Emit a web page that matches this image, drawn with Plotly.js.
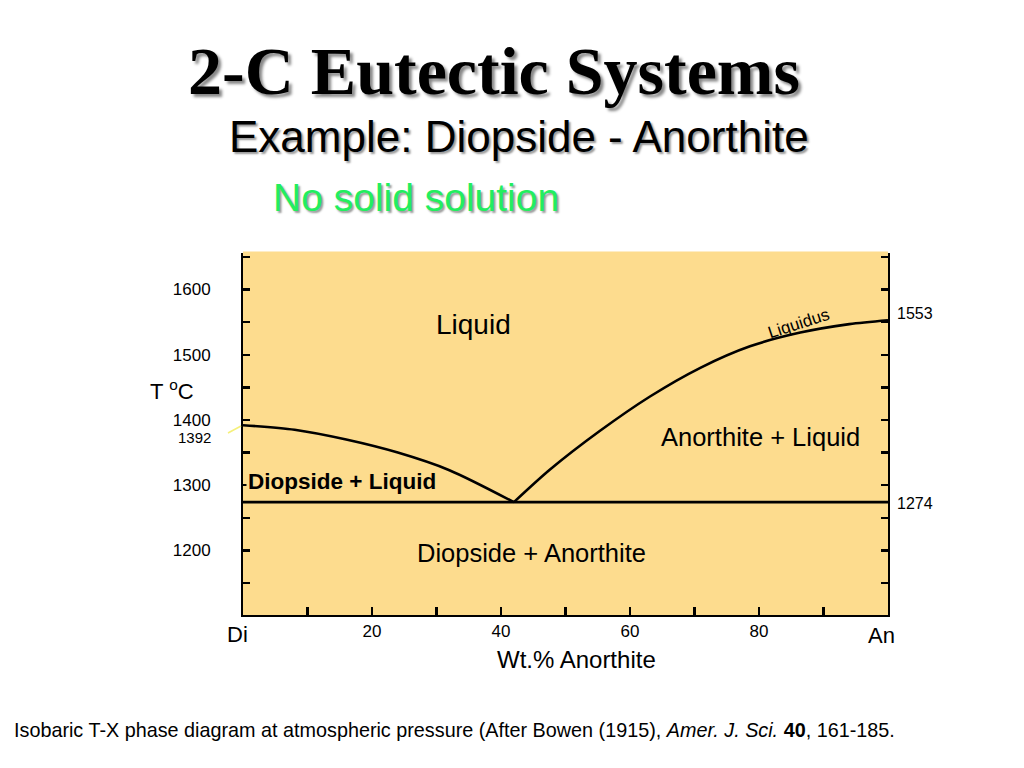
<!DOCTYPE html>
<html>
<head>
<meta charset="utf-8">
<script src="https://cdn.plot.ly/plotly-3.0.1.min.js"></script>
<style>html,body{margin:0;padding:0;background:#fff;}#chart{width:1024px;height:768px;}</style>
</head>
<body>
<div id="chart"></div>
<script>
// Data
const liquidusDiX = [0, 8, 16, 24, 32, 42];
const liquidusDiT = [1392, 1385, 1370, 1350, 1323, 1274];
const liquidusAnX = [42, 47.6, 55.3, 63.1, 70.9, 78.6, 86.4, 94, 100];
const liquidusAnT = [1274, 1324, 1383, 1436, 1480, 1513, 1534, 1547, 1553];
const solidusX = [0, 100];
const solidusT = [1274, 1274];
const xTickVals = [20, 40, 60, 80];
const xTickText = ['20', '40', '60', '80'];
const yTickVals = [1200, 1300, 1400, 1500, 1600];
const yTickText = ['1200', '1300', '1400', '1500', '1600'];
const endLabels = {left: 'Di', right: 'An'};
const specialTemps = {diMelt: 1392, eutectic: 1274, anMelt: 1553};

// Pixel -> paper helpers for layout placement
const L = 243, R = 888, T = 253, B = 615;
const px = x => (x - L) / (R - L);
const py = y => (B - y) / (B - T);

const lineStyle = {color: '#000', width: 2.6};
const traces = [
  {x: liquidusDiX, y: liquidusDiT, mode: 'lines', line: Object.assign({shape: 'spline', smoothing: 0.8}, lineStyle), hoverinfo: 'skip'},
  {x: liquidusAnX, y: liquidusAnT, mode: 'lines', line: Object.assign({shape: 'spline', smoothing: 0.8}, lineStyle), hoverinfo: 'skip'},
  {x: solidusX, y: solidusT, mode: 'lines', line: lineStyle, hoverinfo: 'skip'}
];

const sans = 'Liberation Sans, Arial, sans-serif';
const bg = '#FDDC8E';
const C = {xanchor: 'center', yanchor: 'middle', showarrow: false};
const ann = o => Object.assign({}, C, o);

const annotations = [
  ann({text: 'Example: Diopside - Anorthite', xref: 'paper', yref: 'paper', x: px(519), y: py(137),
   font: {family: sans, size: 44, color: '#000', shadow: '2px 2px 2px #999'}}),
  ann({text: 'No solid solution', xref: 'paper', yref: 'paper', x: px(416), y: py(197),
   font: {family: sans, size: 39, color: '#22EE5E', shadow: '2px 2px 2px #999'}}),
  ann({text: 'Liquid', x: 35.7, y: 1547, font: {family: sans, size: 28, color: '#000'}}),
  ann({text: 'Liquidus', x: 86.2, y: 1548, textangle: -18, font: {family: sans, size: 17, color: '#000'}}),
  ann({text: 'Anorthite + Liquid', x: 80.2, y: 1374, font: {family: sans, size: 25.5, color: '#000'}}),
  ann({text: '<b>Diopside + Liquid</b>', x: 0.5, xanchor: 'left', y: 1306, bgcolor: bg,
   font: {family: sans, size: 22.5, color: '#000'}}),
  ann({text: 'Diopside + Anorthite', x: 44.7, y: 1196, font: {family: sans, size: 25.5, color: '#000'}}),
  ann({text: 'T <sup>o</sup>C', xref: 'paper', yref: 'paper', x: px(172), y: py(390),
   font: {family: sans, size: 22, color: '#000'}}),
  ann({text: 'Wt.% Anorthite', xref: 'paper', yref: 'paper', x: px(576), y: py(659),
   font: {family: sans, size: 24, color: '#000'}}),
  ann({text: endLabels.left, x: 0, xref: 'x', yref: 'paper', xshift: -6, y: py(634),
   font: {family: sans, size: 22, color: '#000'}}),
  ann({text: endLabels.right, x: 100, xref: 'x', yref: 'paper', xshift: -7, y: py(635),
   font: {family: sans, size: 22, color: '#000'}}),
  ann({text: String(specialTemps.diMelt), xref: 'paper', y: specialTemps.diMelt, yshift: -12, x: px(213), xanchor: 'right',
   font: {family: sans, size: 15, color: '#000'}}),
  ann({text: String(specialTemps.anMelt), xref: 'paper', y: specialTemps.anMelt, yshift: 7, x: px(895), xanchor: 'left',
   font: {family: sans, size: 16, color: '#000'}}),
  ann({text: String(specialTemps.eutectic), xref: 'paper', y: specialTemps.eutectic, yshift: -1, x: px(895), xanchor: 'left',
   font: {family: sans, size: 16, color: '#000'}}),
  ann({text: 'Isobaric T-X phase diagram at atmospheric pressure (After Bowen (1915), <i>Amer. J. Sci.</i> <b>40</b>, 161-185.',
   xref: 'paper', yref: 'paper', x: px(12), xanchor: 'left', y: py(730),
   font: {family: sans, size: 19.8, color: '#000'}})
];

const layout = {
  width: 1024, height: 768,
  margin: {l: L, r: 1024 - R, t: T, b: 768 - B, pad: 0},
  paper_bgcolor: '#fff',
  plot_bgcolor: bg,
  showlegend: false,
  title: {text: '<b>2-C Eutectic Systems</b>', x: px(494), xref: 'paper', xanchor: 'center', y: 1 - 70 / 768, yanchor: 'middle',
          font: {family: 'Liberation Serif, Times New Roman, serif', size: 68, color: '#000', shadow: '3px 3px 3px #888'}},
  xaxis: {range: [0, 100], showgrid: false, zeroline: false, showline: true, linecolor: '#000', linewidth: 2,
          ticks: 'inside', ticklen: 8, tickwidth: 2.5, tickcolor: '#000',
          tickmode: 'array', tickvals: xTickVals, ticktext: xTickText, ticklabelstandoff: 0,
          tickfont: {family: sans, size: 17, color: '#000'},
          minor: {dtick: 10, tick0: 0, ticks: 'inside', ticklen: 8, tickwidth: 2.5, tickcolor: '#000', showgrid: false}},
  yaxis: {range: [1101, 1656], showgrid: false, zeroline: false, showline: true, linecolor: '#000', linewidth: 2,
          mirror: 'ticks',
          ticks: 'inside', ticklen: 7, tickwidth: 2.5, tickcolor: '#000',
          tickmode: 'array', tickvals: yTickVals, ticktext: yTickText, ticklabelstandoff: 27,
          tickfont: {family: sans, size: 17, color: '#000'},
          minor: {dtick: 50, tick0: 1100, ticks: 'inside', ticklen: 7, tickwidth: 2.5, tickcolor: '#000', showgrid: false}},
  shapes: [
    {type: 'line', xref: 'paper', yref: 'paper', x0: px(228), y0: py(433), x1: px(241), y1: py(426),
     line: {color: '#F5F07A', width: 1.5}},
    {type: 'line', xref: 'paper', yref: 'paper', x0: 0, x1: 1, y0: 1, y1: 1, line: {color: bg, width: 3}}
  ],
  annotations: annotations
};

Plotly.newPlot('chart', traces, layout, {staticPlot: true, displayModeBar: false});
</script>
</body>
</html>
